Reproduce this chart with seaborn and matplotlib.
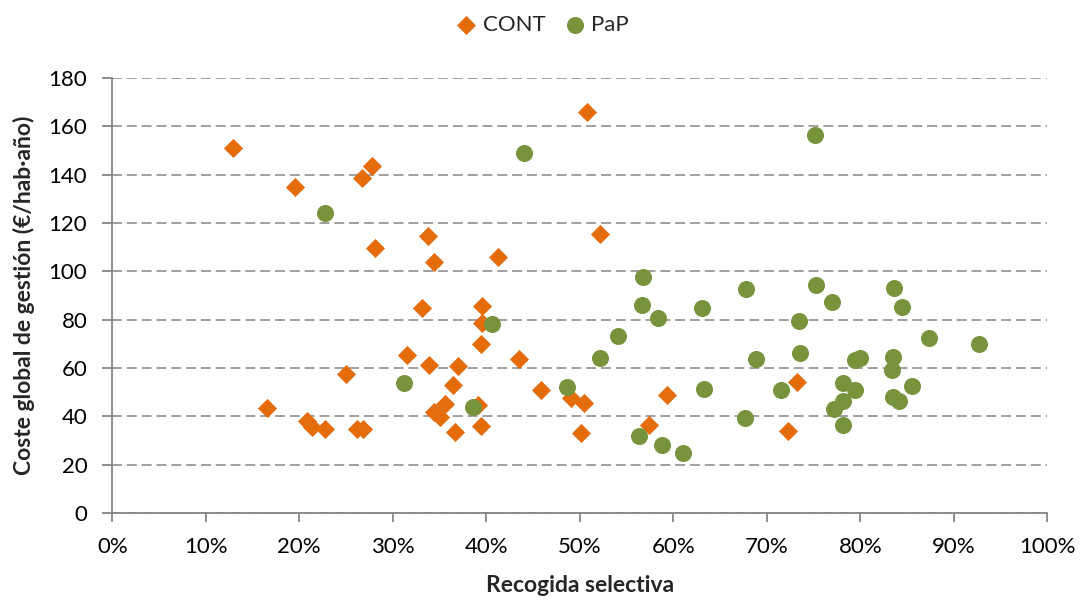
import matplotlib
matplotlib.use("Agg")
import matplotlib.pyplot as plt
import seaborn as sns
import pandas as pd
from matplotlib.ticker import PercentFormatter

# ---- data ----
cont_x = [12.9, 19.5, 26.7, 27.8, 28.1, 33.8, 34.4, 33.1, 50.8, 52.2,
          41.3, 39.5, 39.5, 39.4, 16.5, 20.8, 21.4, 22.7, 25.0, 26.2,
          26.8, 31.5, 33.9, 34.4, 35.0, 35.6, 36.4, 36.7, 37.0, 39.1,
          39.4, 43.5, 45.9, 49.1, 50.4, 50.1, 59.3, 57.4, 72.3, 73.2]
cont_y = [151.2, 135.0, 138.8, 143.6, 109.8, 114.8, 103.7, 85.0, 165.9, 115.4,
          105.9, 85.8, 78.5, 69.9, 43.4, 38.1, 35.7, 34.9, 57.5, 34.6,
          34.6, 65.3, 61.2, 41.7, 39.9, 45.1, 53.0, 33.6, 60.8, 44.6,
          36.1, 63.7, 51.0, 47.4, 45.7, 33.2, 48.7, 36.3, 33.9, 54.1]

pap_x = [22.8, 44.0, 75.2, 56.8, 56.6, 63.1, 67.8, 75.3, 77.0, 83.6,
         84.5, 40.6, 38.6, 48.6, 52.2, 54.1, 58.4, 73.4, 73.5, 68.8,
         63.3, 71.5, 67.7, 56.3, 58.8, 61.0, 87.3, 92.7, 79.4, 80.0,
         83.5, 83.4, 78.2, 79.4, 85.5, 78.2, 77.2, 78.2, 83.5, 84.1, 31.2]
pap_y = [124.0, 149.0, 156.3, 97.7, 86.1, 84.7, 92.7, 94.2, 87.4, 93.2,
         85.1, 78.2, 43.9, 52.3, 64.0, 73.2, 80.6, 79.4, 66.1, 63.7,
         51.4, 50.9, 39.4, 32.0, 28.1, 24.8, 72.3, 69.9, 63.3, 64.0,
         64.6, 59.0, 53.8, 50.9, 52.7, 46.5, 43.0, 36.4, 48.0, 46.2, 53.7]

series_names = ["CONT", "PaP"]
x_ticks = [0, 10, 20, 30, 40, 50, 60, 70, 80, 90, 100]
y_ticks = [0, 20, 40, 60, 80, 100, 120, 140, 160, 180]

df_cont = pd.DataFrame({"x": cont_x, "y": cont_y})
df_pap = pd.DataFrame({"x": pap_x, "y": pap_y})

sns.set_style("white")
plt.rcParams["font.family"] = ["Lato", "DejaVu Sans"]

grey = "#868686"
orange = "#E46C0A"
green = "#77933C"

fig = plt.figure(figsize=(10.8, 6.0), dpi=100)
ax = fig.add_axes([0.104, 0.145, 0.8657, 0.725])

sns.scatterplot(data=df_cont, x="x", y="y", marker="D", s=95, color=orange,
                linewidth=0, ax=ax, label=series_names[0], zorder=3)
sns.scatterplot(data=df_pap, x="x", y="y", marker="o", s=150, color=green,
                linewidth=0, ax=ax, label=series_names[1], zorder=3)

ax.set_xlim(0, 100)
ax.set_ylim(0, 180)
ax.set_xticks(x_ticks)
ax.set_yticks(y_ticks)
ax.xaxis.set_major_formatter(PercentFormatter(decimals=0))

ax.grid(axis="y", color=grey, linestyle=(0, (6.5, 3.2)), linewidth=1.1)
ax.grid(axis="x", visible=False)
ax.set_axisbelow(True)

for side in ["top", "right"]:
    ax.spines[side].set_visible(False)
for side in ["left", "bottom"]:
    ax.spines[side].set_color(grey)
    ax.spines[side].set_linewidth(1.3)

ax.tick_params(axis="both", direction="out", width=1.3, color=grey,
               labelsize=16, labelcolor="black")
ax.tick_params(axis="y", left=True, length=7, pad=11)
ax.tick_params(axis="x", bottom=True, length=6.2, pad=11)

ax.set_xlabel("Recogida selectiva", fontsize=16.5, fontweight="bold", labelpad=13)
ax.set_ylabel("Coste global de gestión (€/hab·año)", fontsize=16.5,
              fontweight="bold", labelpad=10)

if ax.legend_ is not None:
    ax.legend_.remove()
handles, labels = ax.get_legend_handles_labels()
fig.legend(handles, labels, loc="center", bbox_to_anchor=(0.502, 0.958),
           ncol=2, frameon=False, fontsize=16, handlelength=1.0,
           handletextpad=0.25, columnspacing=0.8, markerscale=1.0)

fig.savefig("out.png", dpi=100)
